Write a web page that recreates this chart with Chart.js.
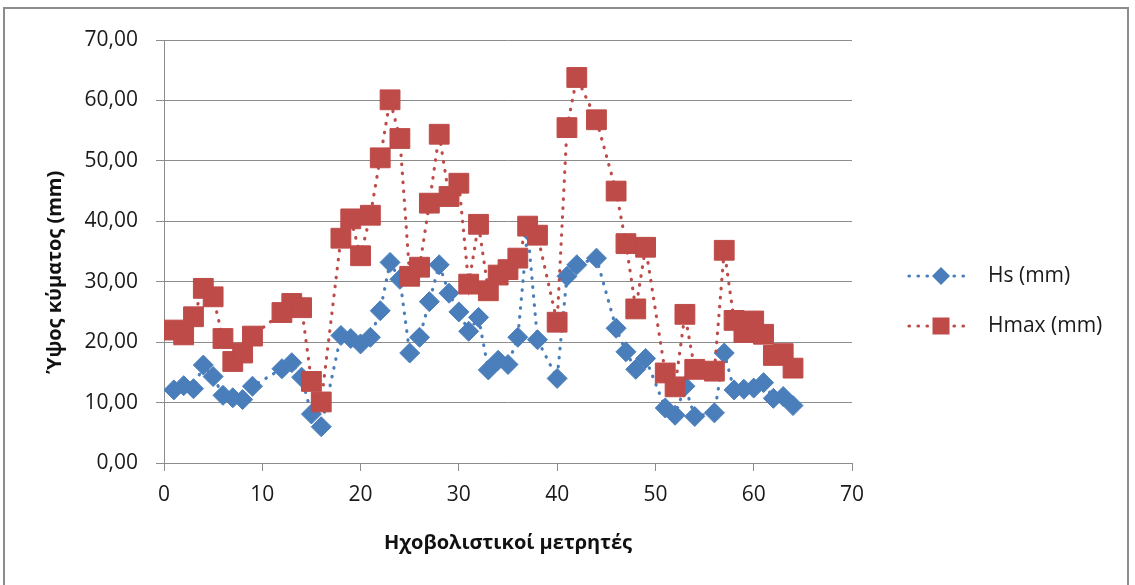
<!DOCTYPE html>
<html>
<head>
<meta charset="utf-8">
<script src="https://cdn.jsdelivr.net/npm/chart.js"></script>
<style>
  html, body { margin: 0; padding: 0; background: #fff; }
  #wrap { position: relative; width: 1135px; height: 585px; overflow: hidden; }
  #frame { position: absolute; left: 3px; top: 7px; width: 1122px; height: 600px; border: 2px solid #8c8c8c; }
  #recordChart { position: absolute; left: 0; top: 0; }
</style>
</head>
<body>
<div id="wrap">
  <div id="frame"></div>
  <canvas id="recordChart" width="1135" height="585"></canvas>
</div>
<script>
// αριθμός μετρητή (άξονας x)
var meters = [1, 2, 3, 4, 5, 6, 7, 8, 9, 12, 13, 14, 15, 16, 18, 19, 20, 21, 22, 23, 24, 25, 26, 27, 28, 29, 30, 31, 32,
  33, 34, 35, 36, 37, 38, 40, 41, 42, 44, 46, 47, 48, 49, 51, 52, 53, 54, 56, 57, 58, 59, 60, 61, 62, 63, 64];

// Hs (mm)
var hsValues = [12.1, 12.8, 12.3, 16.2, 14.3, 11.2, 10.8, 10.5, 12.7, 15.6, 16.6, 14.2, 8.1, 6.0, 21.1, 20.6, 19.7, 20.8,
  25.2, 33.2, 30.4, 18.2, 20.8, 26.7, 32.8, 28.1, 25.0, 21.8, 24.1, 15.4, 17.0, 16.3, 20.8, 38.5, 20.4, 14.0, 30.9, 32.8,
  33.9, 22.3, 18.4, 15.5, 17.3, 9.1, 7.9, 12.7, 7.7, 8.3, 18.2, 12.1, 12.2, 12.4, 13.3, 10.7, 11.0, 9.5];

// Hmax (mm)
var hmaxValues = [22.0, 21.2, 24.2, 28.9, 27.5, 20.6, 16.8, 18.2, 21.0, 24.9, 26.4, 25.7, 13.5, 10.1, 37.2, 40.4, 34.3,
  41.0, 50.5, 60.1, 53.7, 30.9, 32.4, 43.0, 54.4, 44.1, 46.3, 29.6, 39.5, 28.5, 31.1, 32.0, 33.9, 39.2, 37.7, 23.3, 55.5,
  63.8, 56.8, 45.0, 36.3, 25.5, 35.7, 14.9, 12.6, 24.6, 15.5, 15.2, 35.2, 23.6, 21.6, 23.5, 21.3, 17.8, 18.1, 15.7];

var seriesNames = ['Hs (mm)', 'Hmax (mm)'];
var xTitle = 'Ηχοβολιστικοί μετρητές';
var yTitle = 'Ύψος κύματος (mm)';

var blue = '#4a7ebb';
var red = '#be4b48';
var fontFamily = '"Open Sans", "Noto Sans", sans-serif';

//σημεία (x, y)
function toPoints(values) {
  var pts = [];
  for (var i = 0; i < meters.length; i++) {
    pts.push({ x: meters[i], y: values[i] });
  }
  return pts;
}

//υπόμνημα δεξιά
var legendPlugin = {
  id: 'sideLegend',
  afterDraw: function(chart) {
    var ctx = chart.ctx;
    var rows = [276, 326];
    chart.data.datasets.forEach(function(ds, i) {
      var y = rows[i];
      ctx.save();
      ctx.strokeStyle = ds.borderColor;
      ctx.lineWidth = 3.2;
      ctx.lineCap = 'round';
      ctx.setLineDash([0.5, 8.5]);
      ctx.beginPath();
      ctx.moveTo(909, y);
      ctx.lineTo(972, y);
      ctx.stroke();
      ctx.setLineDash([]);
      ctx.fillStyle = ds.backgroundColor;
      ctx.beginPath();
      if (ds.pointStyle === 'rectRot') {
        ctx.moveTo(941 - 9, y);
        ctx.lineTo(941, y - 9);
        ctx.lineTo(941 + 9, y);
        ctx.lineTo(941, y + 9);
        ctx.closePath();
      } else {
        ctx.rect(941 - 8.5, y - 8.5, 17, 17);
      }
      ctx.fill();
      ctx.fillStyle = '#1a1a1a';
      ctx.font = '21px ' + fontFamily;
      ctx.textBaseline = 'middle';
      ctx.textAlign = 'left';
      ctx.fillText(ds.label, 988, y);
      ctx.restore();
    });
  }
};

var data = {
  datasets: [{
    label: seriesNames[0],
    data: toPoints(hsValues),
    showLine: true,
    order: 2,
    borderColor: blue,
    backgroundColor: blue,
    borderWidth: 3.2,
    borderDash: [0.5, 8.5],
    borderCapStyle: 'round',
    pointStyle: 'rectRot',
    pointRadius: 10,
    pointBorderWidth: 1,
    pointBorderColor: blue,
    pointBackgroundColor: blue,
    tension: 0
  }, {
    label: seriesNames[1],
    data: toPoints(hmaxValues),
    showLine: true,
    order: 1,
    borderColor: red,
    backgroundColor: red,
    borderWidth: 3.2,
    borderDash: [0.5, 8.5],
    borderCapStyle: 'round',
    pointStyle: 'rect',
    pointRadius: 14,
    pointBorderWidth: 1,
    pointBorderColor: red,
    pointBackgroundColor: red,
    tension: 0
  }]
};

var config = {
  type: 'scatter',
  data: data,
  plugins: [legendPlugin],
  options: {
    responsive: false,
    animation: false,
    layout: { padding: { top: 40, left: 0, right: 283, bottom: 0 } },
    plugins: {
      legend: { display: false },
      tooltip: { enabled: false }
    },
    scales: {
      x: {
        type: 'linear',
        min: 0,
        max: 70,
        afterFit: function(scale) { scale.height = 122; },
        ticks: {
          stepSize: 10,
          padding: 11,
          color: '#1a1a1a',
          font: { family: fontFamily, size: 21 }
        },
        grid: { drawOnChartArea: false, drawTicks: true, tickLength: 8, color: '#8c8c8c' },
        border: { display: true, color: '#8c8c8c', width: 1 },
        title: {
          display: true,
          text: xTitle,
          color: '#111',
          font: { family: fontFamily, size: 20, weight: 'bold' },
          padding: { top: 0, bottom: 30 }
        }
      },
      y: {
        min: 0,
        max: 70,
        afterFit: function(scale) { scale.width = 164; },
        ticks: {
          stepSize: 10,
          padding: 18,
          color: '#1a1a1a',
          font: { family: fontFamily, size: 21 },
          callback: function(v) { return v.toFixed(2).replace('.', ','); }
        },
        grid: { drawOnChartArea: true, drawTicks: true, tickLength: 8, color: '#8c8c8c', lineWidth: 1 },
        border: { display: true, color: '#8c8c8c', width: 1 },
        title: {
          display: true,
          text: yTitle + '        ',
          color: '#111',
          font: { family: fontFamily, size: 20, weight: 'bold' },
          padding: { top: 43, bottom: 0 }
        }
      }
    }
  }
};

var ctx1 = document.getElementById('recordChart').getContext('2d');
new Chart(ctx1, config);
</script>
</body>
</html>
